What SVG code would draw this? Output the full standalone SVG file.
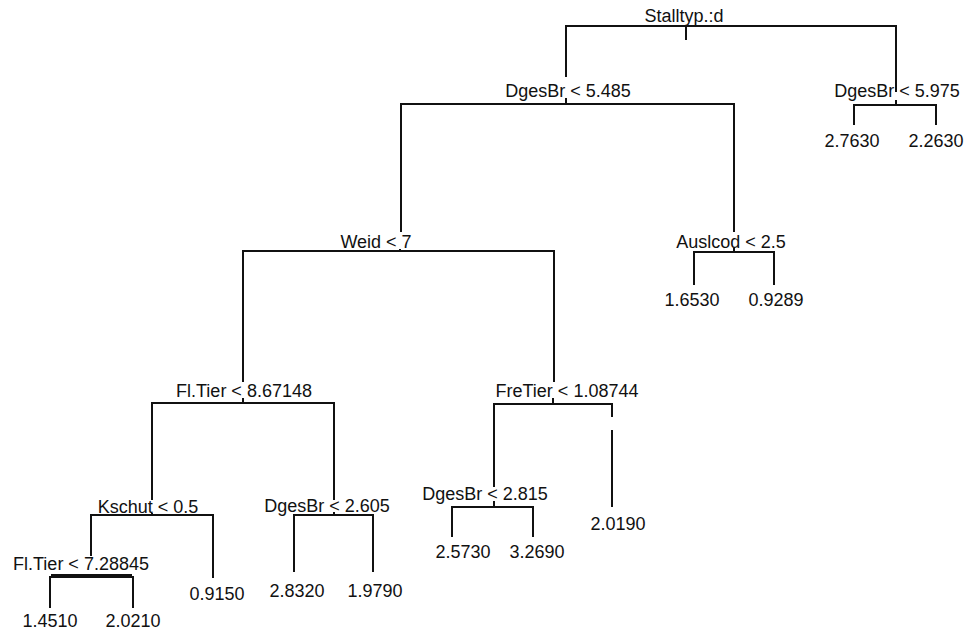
<svg xmlns="http://www.w3.org/2000/svg" width="967" height="631" viewBox="0 0 967 631">
<style>
text{font-family:"Liberation Sans",Arial,sans-serif;font-size:18px;fill:#111;text-anchor:middle}
.c line,.c path{stroke:#111;stroke-width:2;fill:none}
</style>
<rect width="967" height="631" fill="#fff"/>
<g class="c" id="connectors">
<path d="M686 27V40M566 77V26H896V92"/>
<path d="M566 98V104M401 232V104H734V232"/>
<path d="M896 100V105M854 125V105H936V125"/>
<path d="M400 249V251M243 382V251H554V382"/>
<path d="M734 248V252M694 285V252H774V285"/>
<path d="M243 398V403M152 500V403H334V500"/>
<path d="M553 398V404M494 487V404H612V417M612 430V507"/>
<path d="M152 513V515M91 556V515H213V578"/>
<path d="M334 512V515M294 572V515H373V572"/>
<path d="M494 501V507M452 537V507H533V537"/>
<path d="M50 608V577H133V608"/>
<path d="M51 575H132" style="stroke-width:2"/>
</g>
<g id="n_root"><text x="684" y="22">Stalltyp.:d</text></g>
<g id="n_dges5485"><text x="568" y="97">DgesBr &lt; 5.485</text></g>
<g id="n_dges5975"><text x="897" y="97">DgesBr &lt; 5.975</text></g>
<g id="leaf_27630"><text x="852" y="147">2.7630</text></g>
<g id="leaf_22630"><text x="936" y="147">2.2630</text></g>
<g id="n_weid"><text x="376" y="248">Weid &lt; 7</text></g>
<g id="n_auslcod"><text x="731" y="248">Auslcod &lt; 2.5</text></g>
<g id="leaf_16530"><text x="692" y="306">1.6530</text></g>
<g id="leaf_09289"><text x="776" y="306">0.9289</text></g>
<g id="n_fltier867"><text x="244" y="397">Fl.Tier &lt; 8.67148</text></g>
<g id="n_fretier"><text x="567" y="397">FreTier &lt; 1.08744</text></g>
<g id="n_kschut"><text x="148" y="513">Kschut &lt; 0.5</text></g>
<g id="n_dges2605"><text x="327" y="512">DgesBr &lt; 2.605</text></g>
<g id="n_dges2815"><text x="485" y="500">DgesBr &lt; 2.815</text></g>
<g id="leaf_20190"><text x="618" y="530">2.0190</text></g>
<g id="leaf_25730"><text x="463" y="558">2.5730</text></g>
<g id="leaf_32690"><text x="537" y="558">3.2690</text></g>
<g id="leaf_28320"><text x="297" y="597">2.8320</text></g>
<g id="leaf_19790"><text x="375" y="597">1.9790</text></g>
<g id="n_fltier728"><text x="81" y="570">Fl.Tier &lt; 7.28845</text></g>
<g id="leaf_09150"><text x="217" y="600">0.9150</text></g>
<g id="leaf_14510"><text x="50" y="627">1.4510</text></g>
<g id="leaf_20210"><text x="133" y="627">2.0210</text></g>
</svg>
